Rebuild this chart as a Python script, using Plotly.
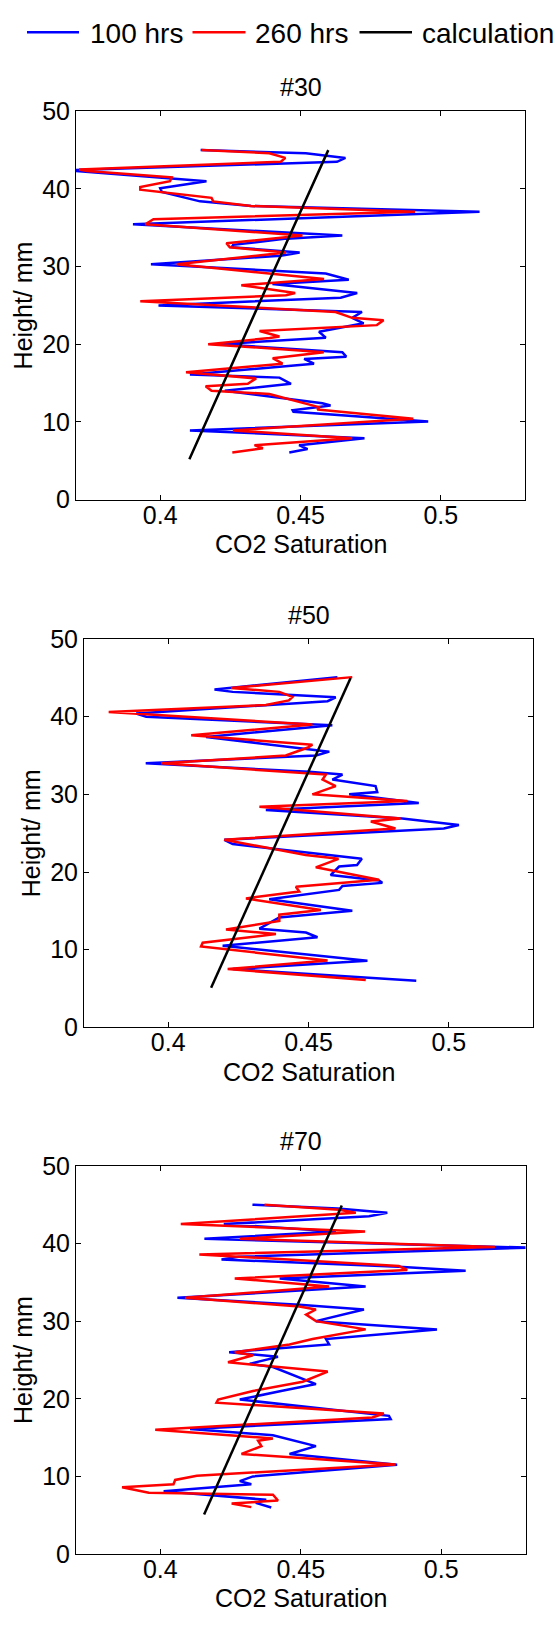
import plotly.graph_objects as go

# ---------------- data: CO2 saturation profiles vs. height ----------------
# Sample #30
h30_100 = [45.0, 44.6, 44.0, 43.5, 42.4, 41.0, 40.1, 39.6, 38.4, 37.8, 37.06, 35.45, 34.0, 33.6,
           32.8, 32.5, 31.8, 31.4, 30.3, 29.1, 28.3, 27.75, 26.6, 26.0, 25.0, 24.15, 23.4, 22.7,
           21.6, 20.85, 20.0, 18.98, 18.4, 18.1, 17.5, 16.1, 15.7, 14.9, 14.0, 12.4, 12.1, 11.5,
           11.3, 10.04, 8.9, 7.9, 7.0, 6.5, 6.06]
s30_100 = [0.4144, 0.4519, 0.4660, 0.4630, 0.3670, 0.4165, 0.4000, 0.4006, 0.4142, 0.4324, 0.5138,
           0.3903, 0.4649, 0.4450, 0.4260, 0.4255, 0.4497, 0.4429, 0.3967, 0.4590, 0.4672, 0.4400,
           0.4702, 0.4643, 0.3994, 0.4719, 0.4684, 0.4725, 0.4566, 0.4590, 0.4210, 0.4649, 0.4663,
           0.4513, 0.4548, 0.4106, 0.4425, 0.4466, 0.4230, 0.4578, 0.4607, 0.4472, 0.4475, 0.4955,
           0.4106, 0.4728, 0.4495, 0.4525, 0.4460]
h30_260 = [45.0, 44.6, 44.0, 43.5, 42.5, 42.3, 41.5, 41.0, 40.26, 39.9, 38.85, 38.4, 37.8, 37.06,
           36.1, 35.45, 34.0, 33.0, 32.5, 31.8, 30.3, 28.4, 27.6, 26.6, 26.3, 25.55, 24.15, 23.4,
           23.1, 22.46, 21.7, 21.0, 20.8, 20.0, 18.98, 18.2, 17.5, 16.4, 15.6, 14.9, 14.6, 14.0,
           13.6, 11.9, 11.6, 10.4, 8.9, 7.9, 7.0, 6.6, 6.06]
s30_260 = [0.4147, 0.4389, 0.4446, 0.4430, 0.3711, 0.3740, 0.4041, 0.4035, 0.3929, 0.3929, 0.4183,
           0.4189, 0.4324, 0.4908, 0.3976, 0.3947, 0.4507, 0.4236, 0.4248, 0.4448, 0.4059, 0.4584,
           0.4289, 0.4481, 0.4448, 0.3929, 0.4625, 0.4684, 0.4796, 0.4772, 0.4354, 0.4425, 0.4390,
           0.4171, 0.4583, 0.4401, 0.4436, 0.4092, 0.4342, 0.4312, 0.4162, 0.4183, 0.4389, 0.4566,
           0.4560, 0.4902, 0.4259, 0.4684, 0.4336, 0.4366, 0.4257]
h30_calc = [5.2, 15, 25, 35, 45]
s30_calc = [0.4104, 0.4225, 0.4349, 0.4474, 0.4599]

# Sample #50
h50_100 = [45.1, 43.8, 43.5, 43.2, 42.5, 42.0, 40.4, 40.0, 38.9, 37.4, 35.5, 35.0, 34.0, 32.9,
           32.55, 31.9, 31.06, 30.3, 30.0, 28.9, 28.0, 26.9, 26.06, 25.6, 24.15, 23.6, 22.5, 21.7,
           20.9, 20.7, 19.6, 18.9, 18.6, 18.2, 17.7, 16.5, 15.0, 14.15, 12.7, 12.2, 11.6, 10.5,
           8.56, 7.5, 6.0]
s50_100 = [0.4603, 0.4225, 0.4165, 0.4230, 0.4597, 0.4568, 0.3886, 0.3922, 0.4585, 0.4135, 0.4574,
           0.4527, 0.3920, 0.4502, 0.4621, 0.4585, 0.4739, 0.4745, 0.4645, 0.4893, 0.4348, 0.4834,
           0.5036, 0.4982, 0.4200, 0.4230, 0.4490, 0.4690, 0.4673, 0.4609, 0.4579, 0.4751, 0.4763,
           0.4621, 0.4609, 0.4360, 0.4656, 0.4396, 0.4325, 0.4491, 0.4532, 0.4194, 0.4710, 0.4230,
           0.4884]
h50_260 = [45.1, 43.7, 43.2, 42.55, 42.1, 41.5, 40.6, 39.0, 37.6, 36.4, 36.0, 35.0, 34.0, 32.55,
           31.9, 31.06, 30.0, 29.15, 28.4, 26.9, 26.5, 25.6, 24.15, 22.2, 21.7, 20.6, 19.0, 18.1,
           17.5, 16.6, 15.1, 14.5, 13.7, 12.6, 12.0, 10.9, 10.4, 8.6, 7.5, 6.1]
s50_260 = [0.4656, 0.4224, 0.4396, 0.4443, 0.4430, 0.4348, 0.3788, 0.4514, 0.4082, 0.4514, 0.4496,
           0.4419, 0.3975, 0.4562, 0.4550, 0.4597, 0.4514, 0.4852, 0.4325, 0.4828, 0.4722, 0.4810,
           0.4200, 0.4490, 0.4607, 0.4526, 0.4751, 0.4455, 0.4467, 0.4277, 0.4544, 0.4396, 0.4396,
           0.4206, 0.4384, 0.4123, 0.4117, 0.4568, 0.4212, 0.4704]
h50_calc = [5.1, 15, 25, 35, 45]
s50_calc = [0.4153, 0.4277, 0.4401, 0.4526, 0.4650]

# Sample #70
h70_100 = [45.0, 44.5, 43.97, 43.5, 42.5, 41.55, 40.6, 39.47, 38.3, 37.94, 37.0, 36.5, 35.5, 34.45,
           33.0, 32.1, 31.5, 30.0, 28.94, 27.7, 27.0, 26.4, 26.0, 25.4, 24.5, 24.1, 21.9, 21.0,
           19.9, 17.8, 17.4, 16.1, 15.3, 13.9, 12.9, 11.5, 10.0, 9.4, 9.0, 8.1, 7.0, 6.6, 6.0]
s70_100 = [0.4328, 0.4631, 0.4808, 0.4743, 0.4226, 0.4625, 0.4157, 0.5310, 0.4280, 0.4218, 0.4849,
           0.5087, 0.4425, 0.4731, 0.4061, 0.4495, 0.4725, 0.4554, 0.4985, 0.4590, 0.4601, 0.4377,
           0.4245, 0.4419, 0.4318, 0.4401, 0.4554, 0.4430, 0.4283, 0.4814, 0.4820, 0.4106, 0.4401,
           0.4554, 0.4460, 0.4843, 0.4330, 0.4283, 0.4324, 0.4012, 0.4377, 0.4340, 0.4395]
h70_260 = [45.0, 44.35, 43.97, 42.5, 41.55, 40.6, 39.55, 38.6, 37.1, 36.6, 35.5, 34.45, 33.0, 31.9,
           31.5, 30.85, 30.0, 28.94, 27.7, 27.0, 26.0, 25.6, 24.7, 23.5, 22.2, 21.0, 19.9, 19.5,
           18.1, 17.6, 16.0, 14.9, 14.6, 13.9, 12.9, 11.55, 10.1, 9.55, 9.0, 8.6, 7.9, 7.65, 6.9,
           6.5, 6.05]
s70_260 = [0.4371, 0.4637, 0.4696, 0.4073, 0.4729, 0.4283, 0.5191, 0.4139, 0.4849, 0.4879, 0.4265,
           0.4601, 0.4088, 0.4495, 0.4554, 0.4519, 0.4554, 0.4731, 0.4542, 0.4460, 0.4265, 0.4330,
           0.4241, 0.4596, 0.4507, 0.4330, 0.4206, 0.4200, 0.4796, 0.4755, 0.3982, 0.4401, 0.4348,
           0.4360, 0.4289, 0.4837, 0.4130, 0.4053, 0.4047, 0.3864, 0.3959, 0.4401, 0.4419, 0.4254,
           0.4324]
h70_calc = [5.1, 15, 25, 35, 44.9]
s70_calc = [0.4156, 0.4278, 0.4401, 0.4524, 0.4646]

titles = ["#30", "#50", "#70"]
series_names = ["100 hrs", "260 hrs", "calculation"]
x_ticks = [0.4, 0.45, 0.5]
y_ticks = [0, 10, 20, 30, 40, 50]

# ---------------- layout geometry (pixels) ----------------
W, H = 558, 1630
FONT = "Liberation Sans, Arial, Helvetica, sans-serif"
COLORS = ["#0000ff", "#ff0000", "#000000"]
FS = 25
LW = 2.5

# plot-area boxes: left, right, top, bottom, title centre
boxes = [(76, 525, 99, 494, 74), (84, 533, 636, 1031, 611.5), (76, 525.5, 1172, 1567, 1147)]


def px(x):
    return x / W


def py(y):
    return 1 - y / H


panels = [
    (s30_100, h30_100, s30_260, h30_260, s30_calc, h30_calc),
    (s50_100, h50_100, s50_260, h50_260, s50_calc, h50_calc),
    (s70_100, h70_100, s70_260, h70_260, s70_calc, h70_calc),
]

fig = go.Figure()
annotations = []
shapes = []

for i, (panel, box, title) in enumerate(zip(panels, boxes, titles)):
    sfx = "" if i == 0 else str(i + 1)
    xa, ya = "x" + sfx, "y" + sfx
    s_a, h_a, s_b, h_b, s_c, h_c = panel
    for (sx, hy), col in zip([(s_a, h_a), (s_b, h_b), (s_c, h_c)], COLORS):
        fig.add_trace(go.Scatter(x=sx, y=hy, xaxis=xa, yaxis=ya, mode="lines",
                                 line=dict(color=col, width=LW), showlegend=False,
                                 hoverinfo="skip"))

    l, r, t, b, ty = box
    axis_common = dict(showline=True, linecolor="black", linewidth=1, mirror="ticks",
                       ticks="inside", ticklen=5, tickcolor="black", tickwidth=1,
                       showgrid=False, zeroline=False,
                       tickfont=dict(family=FONT, size=FS, color="black"))
    fig.layout["xaxis" + sfx] = dict(domain=[px(l), px(r)], range=[0.37, 0.53],
                                     tickvals=x_ticks, anchor=ya, ticklabelstandoff=-7,
                                     **axis_common)
    fig.layout["yaxis" + sfx] = dict(domain=[py(b), py(t)], range=[0, 50],
                                     tickvals=y_ticks, anchor=xa, **axis_common)

    cx = (l + r) / 2
    annotations.append(dict(text=title, x=px(cx), y=py(ty), xref="paper", yref="paper",
                            showarrow=False, xanchor="center", yanchor="middle",
                            font=dict(family=FONT, size=FS, color="black")))
    annotations.append(dict(text="CO2 Saturation", x=px(cx), y=py(b + 45), xref="paper",
                            yref="paper", showarrow=False, xanchor="center", yanchor="middle",
                            font=dict(family=FONT, size=FS, color="black")))
    annotations.append(dict(text="Height/ mm", x=px(l - 53), y=py((t + b) / 2), xref="paper",
                            yref="paper", showarrow=False, textangle=-90,
                            xanchor="center", yanchor="middle",
                            font=dict(family=FONT, size=FS, color="black")))

# legend row along the top
legend_items = [(27, 79, 88), (192.5, 245.5, 253), (359.5, 412, 420)]
for (x0, x1, tx), name, col in zip(legend_items, series_names, COLORS):
    shapes.append(dict(type="line", xref="paper", yref="paper", x0=px(x0), x1=px(x1),
                       y0=py(18.5), y1=py(18.5), line=dict(color=col, width=LW)))
    annotations.append(dict(text=name, x=px(tx), y=py(20), xref="paper", yref="paper",
                            showarrow=False, xanchor="left", yanchor="middle",
                            font=dict(family=FONT, size=28, color="black")))

fig.update_layout(width=W, height=H, margin=dict(l=0, r=0, t=0, b=0),
                  paper_bgcolor="white", plot_bgcolor="white",
                  annotations=annotations, shapes=shapes, showlegend=False)

fig.write_html("out.html")
